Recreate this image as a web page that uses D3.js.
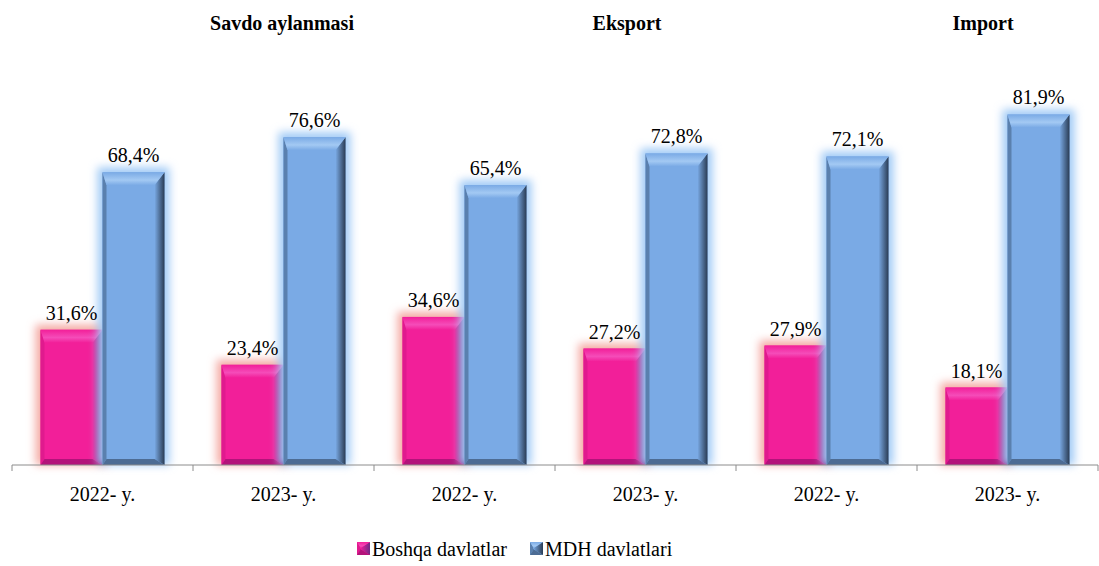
<!DOCTYPE html>
<html>
<head>
<meta charset="utf-8">
<script src="https://cdn.jsdelivr.net/npm/d3@7"></script>
<style>
  @font-face { font-family: "ChartSerif"; src: local("Liberation Serif"), local("LiberationSerif-Regular"), local("Tinos"); font-weight: normal; }
  @font-face { font-family: "ChartSerif"; src: local("Liberation Serif Bold"), local("LiberationSerif-Bold"), local("Tinos Bold"); font-weight: bold; }
  body { margin: 0; background: #fff; font-family: "Liberation Serif"; }
</style>
</head>
<body>
<svg id="chart" width="1099" height="566" font-family="Liberation Serif"></svg>
<script>
// chart data
const categories = ["2022- y.", "2023- y.", "2022- y.", "2023- y.", "2022- y.", "2023- y."];
const boshqa = [31.6, 23.4, 34.6, 27.2, 27.9, 18.1];
const mdh = [68.4, 76.6, 65.4, 72.8, 72.1, 81.9];
const groupTitles = ["Savdo aylanmasi", "Eksport", "Import"];
const seriesNames = ["Boshqa davlatlar", "MDH davlatlari"];

const FONT = "Liberation Serif";
const svg = d3.select("#chart");

const x0 = d3.scaleBand().domain(d3.range(categories.length)).range([12, 1098]).paddingInner(0).paddingOuter(0);
const x1 = d3.scaleBand().domain([0, 1]).range([0, x0.bandwidth()]).paddingOuter(0.46).paddingInner(0);
const y = d3.scaleLinear().domain([0, 100]).range([465, 37]);

// palettes for the bevelled bars
const pal = [
  { face: "#f21f99", top: "#f54cb9", left: "#e01a8e", right: "#6e2a86", bottom: "#b3137a", glow: "#f4aaa4" },
  { face: "#7aaae5", top: "#a3c9f3", left: "#5a80ae", right: "#2a3c54", bottom: "#4d6c94", glow: "#a2cbf6" }
];

const defs = svg.append("defs");
const glow = defs.append("filter").attr("id", "glow")
  .attr("x", "-50%").attr("y", "-50%").attr("width", "200%").attr("height", "200%");
glow.append("feGaussianBlur").attr("stdDeviation", 4.5);

pal.forEach((p, i) => {
  const g = defs.append("linearGradient").attr("id", "rg" + i).attr("x1", "0").attr("x2", "1");
  g.append("stop").attr("offset", "0").attr("stop-color", p.face);
  g.append("stop").attr("offset", "1").attr("stop-color", p.right);
  const t = defs.append("linearGradient").attr("id", "tg" + i).attr("x1", "0").attr("x2", "0").attr("y1", "0").attr("y2", "1");
  t.append("stop").attr("offset", "0").attr("stop-color", p.face);
  t.append("stop").attr("offset", "0.6").attr("stop-color", p.top);
  t.append("stop").attr("offset", "1").attr("stop-color", p.face);
});

function drawBar(g, bx, by, w, h, p, si, withGlow) {
  const bt = Math.min(13, h / 2), bb = 6, bl = 4, br = 10;
  if (withGlow) {
    g.append("rect").attr("x", bx - 5).attr("y", by - 5).attr("width", w + 10).attr("height", h + 5)
      .attr("fill", p.glow).attr("filter", "url(#glow)");
  }
  g.append("rect").attr("x", bx).attr("y", by).attr("width", w).attr("height", h).attr("fill", p.face);
  // left bevel
  g.append("polygon").attr("points", [[bx, by], [bx + bl, by + bt], [bx + bl, by + h - bb], [bx, by + h]].join(" "))
    .attr("fill", p.left);
  // right bevel
  g.append("polygon").attr("points", [[bx + w, by], [bx + w - br, by + bt], [bx + w - br, by + h - bb], [bx + w, by + h]].join(" "))
    .attr("fill", "url(#rg" + si + ")");
  // bottom bevel
  g.append("polygon").attr("points", [[bx, by + h], [bx + bl, by + h - bb], [bx + w - br, by + h - bb], [bx + w, by + h]].join(" "))
    .attr("fill", p.bottom);
  // top bevel
  g.append("polygon").attr("points", [[bx, by], [bx + w, by], [bx + w - br, by + bt], [bx + bl, by + bt]].join(" "))
    .attr("fill", "url(#tg" + si + ")");
}

const barsG = svg.append("g");
[boshqa, mdh].forEach((vals, si) => {
  vals.forEach((v, i) => {
    const bx = x0(i) + x1(si), w = x1.bandwidth();
    drawBar(barsG, bx, y(v), w, y(0) - y(v), pal[si], si, true);
  });
});

// x axis line with ticks at category boundaries
const axG = svg.append("g").attr("transform", "translate(0," + y(0) + ")");
axG.append("path").attr("d", "M12,0H1098").attr("stroke", "#8c8c8c").attr("fill", "none");
axG.selectAll(".bound").data(d3.range(categories.length + 1)).enter().append("line")
  .attr("x1", i => 12 + i * x0.step()).attr("x2", i => 12 + i * x0.step())
  .attr("y1", 0).attr("y2", 6).attr("stroke", "#8c8c8c");

// legend markers
const legX = [357, 530];
seriesNames.forEach((n, i) => {
  drawBar(svg.append("g"), legX[i], 542, 13, 13, pal[i], i, false);
});

// all text
const txt = svg.append("g").attr("font-family", FONT).attr("font-size", 20).attr("fill", "#000");

txt.selectAll(".gt").data(groupTitles).enter().append("text")
  .attr("x", (d, i) => [282, 627, 983][i]).attr("y", 30)
  .attr("font-family", FONT).attr("font-weight", "bold").attr("text-anchor", "middle")
  .text(d => d);

[boshqa, mdh].forEach((vals, si) => {
  txt.selectAll(".lbl" + si).data(vals).enter().append("text")
    .attr("x", (d, i) => x0(i) + x1(si) + x1.bandwidth() / 2)
    .attr("y", d => y(d) - 10)
    .attr("font-family", FONT).attr("text-anchor", "middle")
    .text(d => d.toFixed(1).replace(".", ",") + "%");
});

txt.selectAll(".cat").data(categories).enter().append("text")
  .attr("x", (d, i) => x0(i) + x0.bandwidth() / 2)
  .attr("y", y(0) + 36)
  .attr("font-family", FONT).attr("text-anchor", "middle")
  .text(d => d);

seriesNames.forEach((n, i) => {
  txt.append("text").attr("x", legX[i] + 15).attr("y", 556)
    .attr("font-family", FONT).text(n);
});
</script>
</body>
</html>
